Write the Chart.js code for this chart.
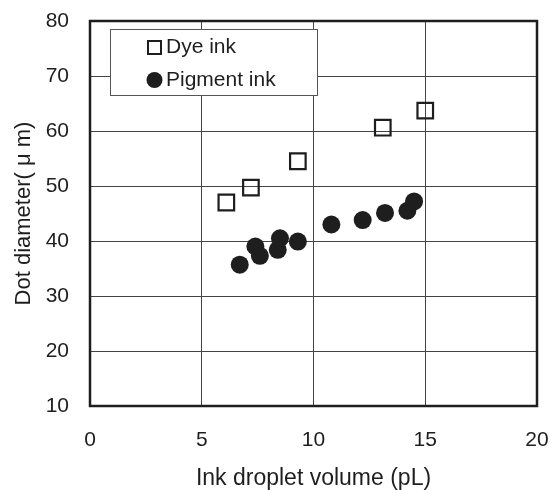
<!DOCTYPE html>
<html>
<head>
<meta charset="utf-8">
<script src="https://cdn.jsdelivr.net/npm/chart.js@4"></script>
<style>
  html, body { margin: 0; padding: 0; background: #fff; }
  #wrap { width: 554px; height: 490px; }
</style>
</head>
<body>
<div id="wrap"><canvas id="dotChart" width="554" height="490"></canvas></div>
<script>
'use strict';

// values
const dyeVolume = [6.1, 7.2, 9.3, 13.1, 15.0];
const dyeDiameter = [47.0, 49.7, 54.5, 60.6, 63.7];
const pigmentVolume = [6.7, 7.4, 7.6, 8.4, 8.5, 9.3, 10.8, 12.2, 13.2, 14.2, 14.5];
const pigmentDiameter = [35.7, 39.0, 37.3, 38.4, 40.5, 39.9, 43.0, 43.8, 45.1, 45.5, 47.2];
const xTicks = [0, 5, 10, 15, 20];
const yTicks = [10, 20, 30, 40, 50, 60, 70, 80];

const fontName = '"Liberation Sans", Arial, "Noto Sans CJK JP", sans-serif';
const inkColor = '#1e1e1e';

function toPoints(xs, ys) {
    let pts = [];
    for (let i = 0; i < xs.length; i++) {
        pts.push({ x: xs[i], y: ys[i] });
    }
    return pts;
}

// frame round the plot area
const framePlugin = {
    id: 'frame',
    beforeDatasetsDraw(chart) {
        const a = chart.chartArea;
        const ctx = chart.ctx;
        ctx.save();
        ctx.strokeStyle = inkColor;
        ctx.lineWidth = 2.5;
        ctx.strokeRect(a.left, a.top, a.right - a.left, a.bottom - a.top);
        ctx.restore();
    }
};

// boxed legend in the top-left corner
const boxLegend = {
    id: 'boxLegend',
    afterDatasetsDraw(chart) {
        const ctx = chart.ctx;
        const sets = chart.data.datasets;
        ctx.save();
        ctx.fillStyle = '#fff';
        ctx.fillRect(110, 29, 207, 66);
        ctx.strokeStyle = '#555';
        ctx.lineWidth = 1;
        ctx.strokeRect(110.5, 29.5, 207, 66);

        // square marker
        ctx.strokeStyle = inkColor;
        ctx.lineWidth = 2;
        ctx.strokeRect(148, 41, 13, 13);
        // circle marker
        ctx.fillStyle = inkColor;
        ctx.beginPath();
        ctx.arc(154.5, 80, 8, 0, Math.PI * 2);
        ctx.fill();

        ctx.font = '21px ' + fontName;
        ctx.textBaseline = 'middle';
        ctx.fillStyle = inkColor;
        ctx.fillText(sets[0].label, 166, 47);
        ctx.fillText(sets[1].label, 166, 80);
        ctx.restore();
    }
};

const data = {
    datasets: [
        {
            label: 'Dye ink',
            data: toPoints(dyeVolume, dyeDiameter),
            pointStyle: 'rect',
            pointRadius: 11,
            pointBorderWidth: 2.2,
            borderColor: inkColor,
            backgroundColor: 'rgba(255,255,255,0)',
        },
        {
            label: 'Pigment ink',
            data: toPoints(pigmentVolume, pigmentDiameter),
            pointStyle: 'circle',
            pointRadius: 9,
            pointBorderWidth: 0,
            borderColor: inkColor,
            backgroundColor: inkColor,
        },
    ]
};

const config = {
    type: 'scatter',
    data: data,
    options: {
        responsive: false,
        animation: false,
        layout: {
            padding: { top: 21, right: 17, left: 0, bottom: 0 },
        },
        plugins: {
            legend: { display: false },
            tooltip: { enabled: false },
        },
        scales: {
            x: {
                type: 'linear',
                min: 0,
                max: 20,
                afterBuildTicks(scale) {
                    scale.ticks = xTicks.map(v => ({ value: v }));
                },
                afterFit(scale) {
                    scale.height = 84;
                    scale.paddingLeft = 0;
                    scale.paddingRight = 0;
                },
                grid: {
                    color: '#444',
                    lineWidth: 1,
                    drawTicks: false,
                },
                border: { display: false },
                ticks: {
                    padding: 22,
                    color: inkColor,
                    font: { family: fontName, size: 21 },
                },
                title: {
                    display: true,
                    text: 'Ink droplet volume (pL)',
                    color: inkColor,
                    font: { family: fontName, size: 23, lineHeight: 1 },
                    padding: { top: 0, bottom: 0 },
                },
            },
            y: {
                type: 'linear',
                min: 10,
                max: 80,
                afterBuildTicks(scale) {
                    scale.ticks = yTicks.map(v => ({ value: v }));
                },
                afterFit(scale) {
                    scale.width = 90;
                    scale.paddingTop = 0;
                    scale.paddingBottom = 0;
                },
                grid: {
                    color: '#444',
                    lineWidth: 1,
                    drawTicks: false,
                },
                border: { display: false },
                ticks: {
                    padding: 21,
                    color: inkColor,
                    font: { family: fontName, size: 21 },
                },
                title: {
                    display: true,
                    text: 'Dot diameter( μ m)',
                    color: inkColor,
                    font: { family: fontName, size: 22, lineHeight: 1 },
                    padding: { top: 13, bottom: 0 },
                },
            },
        },
    },
    plugins: [framePlugin, boxLegend],
};

const dotChart = new Chart(document.getElementById('dotChart'), config);
</script>
</body>
</html>
